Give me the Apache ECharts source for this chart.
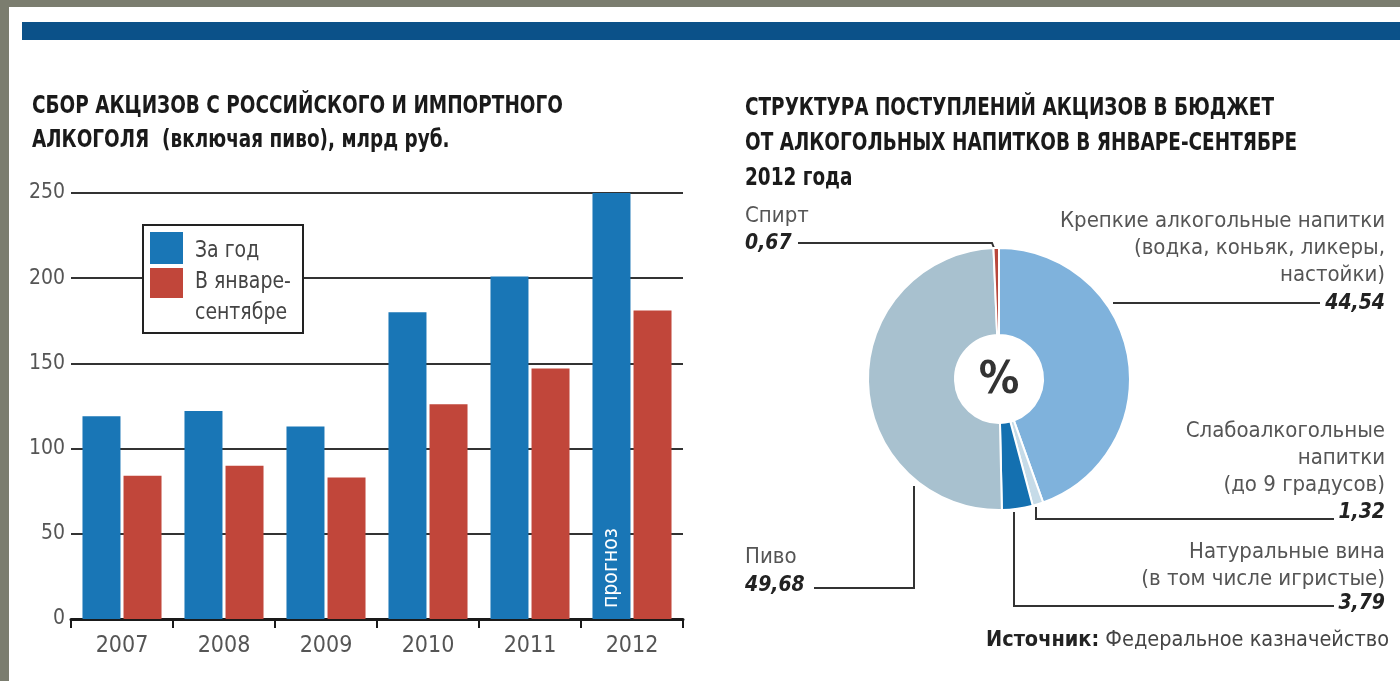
<!DOCTYPE html>
<html><head><meta charset="utf-8">
<script src="https://cdn.jsdelivr.net/npm/echarts@6/dist/echarts.min.js"></script>
<style>html,body{margin:0;padding:0;background:#7b7d6f;}#c{width:1400px;height:681px;}</style>
</head><body><div id="c"></div>
<script>
// ---- data ----
const years = ['2007', '2008', '2009', '2010', '2011', '2012'];
const yearTotal = [119, 122, 113, 180, 201, 250];
const janSep = [84, 90, 83, 126, 147, 181];
const seriesNames = ['За год', 'В январе-\nсентябре'];
const forecastLabel = 'прогноз';
const pieNames = ['Крепкие алкогольные напитки', 'Слабоалкогольные напитки', 'Натуральные вина', 'Пиво', 'Спирт'];
const pieValues = [44.54, 1.32, 3.79, 49.68, 0.67];
const pieLabelLines = [
  ['Крепкие алкогольные напитки', '(водка, коньяк, ликеры,', 'настойки)'],
  ['Слабоалкогольные', 'напитки', '(до 9 градусов)'],
  ['Натуральные вина', '(в том числе игристые)'],
  ['Пиво'],
  ['Спирт']
];
const leftTitle = ['СБОР АКЦИЗОВ С РОССИЙСКОГО И ИМПОРТНОГО', 'АЛКОГОЛЯ  (включая пиво), млрд руб.'];
const rightTitle = ['СТРУКТУРА ПОСТУПЛЕНИЙ АКЦИЗОВ В БЮДЖЕТ', 'ОТ АЛКОГОЛЬНЫХ НАПИТКОВ В ЯНВАРЕ-СЕНТЯБРЕ', '2012 года'];
const sourceText = ['Источник:', 'Федеральное казначейство'];

// ---- styles ----
const F = '"Liberation Sans Narrow","DejaVu Sans Condensed",sans-serif';
const BLUE = '#1976b6', RED = '#c1463a';
const pieColors = ['#7fb2dc', '#c6dbe8', '#1470b0', '#a8c1cf', '#b8473c'];
const fmt = v => v.toFixed(2).replace('.', ',');

const chart = echarts.init(document.getElementById('c'));

const g = [];
// white panel and top band
g.push({type: 'rect', shape: {x: 9, y: 7, width: 1391, height: 674}, style: {fill: '#fff'}, z: -10});
g.push({type: 'rect', shape: {x: 22, y: 22, width: 1378, height: 18}, style: {fill: '#0b5189'}, z: -9});
// titles
const title = (x, y, t) => g.push({type: 'text', x: x, y: y, scaleY: 1.22, style: {text: t, font: 'bold 20.5px ' + F, fill: '#1a1a1a', verticalAlign: 'middle'}});
leftTitle.forEach((t, i) => title(32, 106 + i * 34, t));
rightTitle.forEach((t, i) => title(745, 108 + i * 35, t));
// legend box
g.push({type: 'rect', shape: {x: 143, y: 225, width: 160, height: 108}, style: {fill: '#fff', stroke: '#222', lineWidth: 2}, z: 20});
g.push({type: 'rect', shape: {x: 150, y: 232, width: 33, height: 32}, style: {fill: BLUE}, z: 21});
g.push({type: 'rect', shape: {x: 150, y: 268, width: 33, height: 30}, style: {fill: RED}, z: 21});
const legTxt = [seriesNames[0]].concat(seriesNames[1].split('\n'));
legTxt.forEach((t, i) => g.push({type: 'text', x: 195, y: 251 + i * 31, scaleY: 1.1, style: {text: t, font: '21px ' + F, fill: '#444', verticalAlign: 'middle'}, z: 21}));
// percent sign
g.push({type: 'text', x: 999, y: 381, style: {text: '%', font: 'bold 45px ' + F, fill: '#333', align: 'center', verticalAlign: 'middle'}, z: 30});

// pie labels
const lab = (x, y, t, align, bold) => g.push({type: 'text', x: x, y: y, style: {text: t, font: (bold ? 'italic bold 21px ' : '22px ') + F, fill: bold ? '#222' : '#555', align: align, verticalAlign: 'middle'}});
const line = (pts) => g.push({type: 'polyline', shape: {points: pts}, style: {stroke: '#333', lineWidth: 2, fill: null}});
// Спирт
lab(745, 216, pieLabelLines[4][0], 'left');
lab(745, 244, fmt(pieValues[4]), 'left', true);
line([[798, 243], [992, 243], [994, 248]]);
// Крепкие
pieLabelLines[0].forEach((t, i) => lab(1385, 221 + i * 27, t, 'right'));
lab(1385, 304, fmt(pieValues[0]), 'right', true);
line([[1113, 303], [1320, 303]]);
// Слабоалкогольные
pieLabelLines[1].forEach((t, i) => lab(1385, 431 + i * 27, t, 'right'));
lab(1385, 513, fmt(pieValues[1]), 'right', true);
line([[1036, 507], [1036, 519], [1334, 519]]);
// Натуральные вина
pieLabelLines[2].forEach((t, i) => lab(1385, 552 + i * 27, t, 'right'));
lab(1385, 604, fmt(pieValues[2]), 'right', true);
line([[1014, 512], [1014, 606], [1334, 606]]);
// Пиво
lab(745, 557, pieLabelLines[3][0], 'left');
lab(745, 586, fmt(pieValues[3]), 'left', true);
line([[814, 588], [914, 588], [914, 486]]);
// source
g.push({type: 'text', x: 986, y: 640, style: {text: '{b|' + sourceText[0] + '} ' + sourceText[1], font: '21.5px ' + F, fill: '#444', verticalAlign: 'middle', rich: {b: {font: 'bold 21.5px ' + F, fill: '#222'}}}});

chart.setOption({
  animation: false,
  backgroundColor: 'transparent',
  grid: {left: 71, right: 717, top: 193, bottom: 62},
  xAxis: {
    type: 'category', data: years,
    axisLine: {lineStyle: {color: '#1a1a1a', width: 3}},
    axisTick: {show: true, length: 9, lineStyle: {color: '#1a1a1a', width: 2}},
    axisLabel: {color: '#555', fontSize: 23, fontFamily: F, margin: 16}
  },
  yAxis: {
    type: 'value', min: 0, max: 250, interval: 50,
    axisLine: {show: false}, axisTick: {show: false},
    axisLabel: {color: '#555', fontSize: 21, fontFamily: F, margin: 6},
    splitLine: {lineStyle: {color: '#333', width: 2}}
  },
  series: [
    {type: 'bar', name: seriesNames[0], barWidth: 38, barGap: '8%', itemStyle: {color: BLUE},
     data: yearTotal.map((v, i) => i === years.length - 1 ? {value: v, label: {show: true, position: 'insideBottom', rotate: 90, align: 'left', verticalAlign: 'middle', distance: 11, formatter: forecastLabel, color: '#fff', fontSize: 21, fontFamily: F}} : v)},
    {type: 'bar', name: seriesNames[1], barWidth: 38, itemStyle: {color: RED}, data: janSep},
    {type: 'pie', center: [999, 379], radius: [44, 131], startAngle: 90, clockwise: true,
     label: {show: false}, labelLine: {show: false},
     itemStyle: {borderColor: '#fff', borderWidth: 2},
     data: pieNames.map((n, i) => ({name: n, value: pieValues[i], itemStyle: {color: pieColors[i]}}))}
  ],
  graphic: g
});
</script></body></html>
